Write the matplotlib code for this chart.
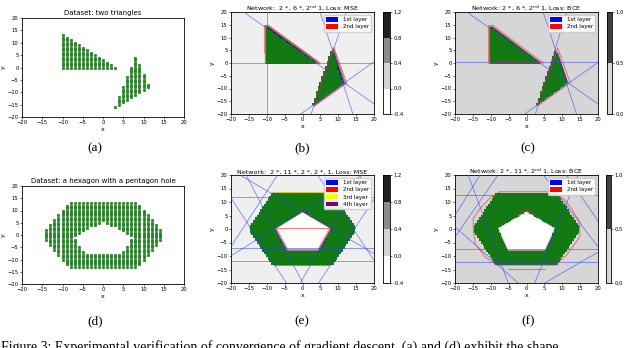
import matplotlib
matplotlib.use("Agg")
import matplotlib.pyplot as plt
import numpy as np
from matplotlib.path import Path
from matplotlib.patches import Patch, Polygon
from matplotlib.colors import BoundaryNorm, ListedColormap
from matplotlib.cm import ScalarMappable

W, H = 640, 348

# training shapes (samples are the lattice points inside them)
tri_left = [(-10.3, -0.3), (-10.3, 14.3), (4.3, -0.3)]
tri_right = [(2.8, -16.3), (8.2, 5.3), (11.3, -8.2)]
hex_outer = [(-15.0, 0), (-8.5, 13.3), (8.5, 13.3), (15.0, 0), (8.5, -13.3), (-8.5, -13.3)]
pent_hole = [(0, 5.5), (-7.6, -0.5), (-4.6, -7.5), (4.6, -7.5), (7.6, -0.5)]
dataset_step = 1.0
model_step = 0.5

ticks = [-20, -15, -10, -5, 0, 5, 10, 15, 20]

# (b) 2-6-2-1, MSE
b_levels = [-0.4, 0.0, 0.4, 0.8, 1.2]
b_colors = ["#ffffff", "#d2d2d2", "#8a8a8a", "#1e1e1e"]
b_bg = "#efefef"
b_dark = [[(-10.3, 0), (-10.3, 14.5), (-9.6, 14.5), (4.6, 0)],
          [(3.3, -16.6), (8.7, 5.6), (11.9, -7.9)]]
b_holes = []
b_blue = [(-9.8, -20, -9.8, 20), (-20, 0, 20, 0), (-16.5, 20, 20, -16),
          (4.9, 20, 14.1, -20), (2.4, -20, 12.3, 20), (-0.5, -20, 20, 0.5)]
b_red = [[(-10.6, 4), (-10.6, 14.7), (-9.5, 14.7), (4.9, 0)],
         [(3.1, -17), (8.7, 6.2), (12.4, -7.9), (3.1, -17)]]

# (c) 2-6-2-1, BCE
c_levels = [0.0, 0.5, 1.0]
c_colors = ["#d6d6d6", "#424242"]
c_bg = "#d6d6d6"
c_dark = [[(-10.6, 0), (-10.6, 14.6), (-9.4, 14.6), (4.6, 0)],
          [(3.3, -16.4), (8.7, 5.4), (11.9, -7.7)]]
c_holes = []
c_blue = [(-20, 0.3, 20, 0.3), (-16.7, 20, 20, -16), (4.65, 20, 14, -20),
          (11.2, 20, 2.5, -20), (-0.5, -20, 20, 0.2)]
c_red = [[(-10.6, 0), (-10.6, 14.7), (-9.4, 14.7), (4.8, 0), (-10.6, 0)],
         [(3.1, -16.8), (8.7, 5.9), (12.2, -7.7), (3.1, -16.8)]]

# (e) 2-11-2-2-1, MSE
e_levels = b_levels
e_colors = b_colors
e_bg = "#efefef"
e_dark = [[(-14.6, 0.3), (-8.1, 13.4), (7.9, 13.4), (14.7, 0.3), (7.6, -13.4), (-7.8, -13.4)]]
e_holes = [[(0, 6.4), (-7.6, 0.2), (-4.3, -7.9), (4.5, -7.9), (8.0, 0.2)]]
e_blue = [(-20, 12, 20, 12), (-20, -7, 20, -7), (-20, -12, 20, -12),
          (-7, 20, -20, -6.5), (-20, 11.5, -4.5, -20), (4.2, 20, 20, -11.6),
          (20, 11, 4.5, -20), (-15.8, 20, 0.1, -20), (16.6, 20, -0.6, -20),
          (-20, -9.9, 16.6, 20), (-17.5, 20, 20, -9.1)]
e_red = [[(-7.6, 0.4), (7.9, 0.4)],
         [(-7.2, 0.0), (-4.2, -7.5), (4.4, -7.5), (7.5, 0.0)]]
e_yellow = [[(-8.0, 13.6), (7.8, 13.6)]]

# (f) 2-11-2-1, BCE
f_levels = c_levels
f_colors = c_colors
f_bg = "#d6d6d6"
f_dark = [[(-14.4, 0.2), (-8.8, 13.2), (8.4, 13.2), (14.4, 0.2), (8.8, -13.4), (-9.0, -13.4)]]
f_holes = [[(0, 6.4), (-7.9, 0.2), (-5.1, -7.8), (5.1, -7.8), (7.9, 0.2)]]
f_blue = [(-20, 12.6, 20, 12.6), (-20, -7.5, 20, -7.5), (-20, -12.4, 20, -12.4),
          (-16.3, 20, -5.1, -20), (-13, 20, -20, 5), (4.7, 20, 20, -6.6),
          (14.4, 20, 2.3, -20), (11.2, 20, 20, 3), (-20, 0.8, -2.3, -20),
          (20, -8.6, 5.1, -20), (-20, -3, -8, 20)]
f_red = [[(-7.4, 13.8), (7.9, 13.8), (11.2, 10.1), (14.9, 2.7), (14.9, -2.9), (11.2, -9.7),
          (7.9, -13.4), (-8.4, -13.4), (-11.6, -10.3), (-14.4, -5.4), (-14.9, -0.4),
          (-14.9, 3.9), (-13, 7.6), (-9.8, 12), (-7.4, 13.8)],
         [(-5.1, -14.7), (5.1, -14.7)],
         [(-3, 5.2), (0, 7.2), (3, 5.2)]]

caption = ("Figure 3: Experimental verification of convergence of gradient descent. "
           "(a) and (d) exhibit the shape")


def lattice(step, outer, holes=()):
    g = np.arange(-20, 20 + step / 2, step)
    gx, gy = np.meshgrid(g, g)
    pts = np.column_stack([gx.ravel(), gy.ravel()])
    keep = np.zeros(len(pts), bool)
    for poly in outer:
        keep |= Path(poly).contains_points(pts)
    for poly in holes:
        keep &= ~Path(poly).contains_points(pts)
    return pts[keep]


def rect(x0, y0, x1, y1):
    return [x0 / W, 1 - y1 / H, (x1 - x0) / W, (y1 - y0) / H]


def style(ax):
    ax.set_xlim(-20, 20)
    ax.set_ylim(-20, 20)
    ax.set_xticks(ticks)
    ax.set_yticks(ticks)
    ax.tick_params(labelsize=3.8, length=1.5, width=0.4, pad=1)
    for s in ax.spines.values():
        s.set_linewidth(0.6)
    ax.set_xlabel("x", fontsize=4.5, labelpad=1)
    ax.set_ylabel("y", fontsize=4.5, labelpad=1)


def dataset_panel(box, title, pts):
    ax = fig.add_axes(rect(*box))
    ax.scatter(pts[:, 0], pts[:, 1], s=3.6, c="#1f9a1f", edgecolors="#0b5d0b",
               linewidths=0.3, zorder=3)
    style(ax)
    ax.set_title(title, fontsize=5, pad=2)
    return ax


def model_panel(box, cbox, title, levels, colors, bg, dark, holes, blue, red, pts,
                yellow=(), legend_n=2):
    ax = fig.add_axes(rect(*box))
    ax.set_facecolor(bg)
    for poly in dark:
        ax.add_patch(Polygon(poly, closed=True, fc=colors[-1], ec=colors[-2],
                             lw=1.2, zorder=1))
    for poly in holes:
        ax.add_patch(Polygon(poly, closed=True, fc="#ffffff", ec=colors[-2],
                             lw=0.8, zorder=1.5))
    if holes:
        inside = np.zeros(len(pts), bool)
        for poly in holes:
            inside |= Path(poly).contains_points(pts, radius=0.6)
        pts = pts[~inside]
    ax.scatter(pts[:, 0], pts[:, 1], s=0.55, marker="s", c="#137a13",
               linewidths=0, zorder=2)
    for x1, y1, x2, y2 in blue:
        ax.plot([x1, x2], [y1, y2], color="#2a3cff", lw=0.5, alpha=0.7, zorder=3)
    for line in red:
        xy = np.array(line)
        ax.plot(xy[:, 0], xy[:, 1], color="#ff2020", lw=0.7, alpha=0.6, zorder=4)
    for line in yellow:
        xy = np.array(line)
        ax.plot(xy[:, 0], xy[:, 1], color="#f0e000", lw=0.7, alpha=0.8, zorder=4)
    style(ax)
    ax.set_title(title, fontsize=4.6, pad=1)

    handles = [Patch(fc="#0000ff"), Patch(fc="#ff0000"), Patch(fc="#ffff00"), Patch(fc="#800080")]
    labels = ["1st layer", "2nd layer", "3rd layer", "4th layer"]
    ax.legend(handles[:legend_n], labels[:legend_n], loc="upper right", fontsize=4,
              handlelength=2.2, handleheight=0.9, borderpad=0.4, labelspacing=0.35,
              framealpha=0.9, fancybox=True)

    cax = fig.add_axes(rect(*cbox))
    sm = ScalarMappable(norm=BoundaryNorm(levels, len(colors)), cmap=ListedColormap(colors))
    cb = fig.colorbar(sm, cax=cax, ticks=levels)
    cb.ax.tick_params(labelsize=3.8, length=1.5, width=0.4, pad=1)
    cb.ax.set_yticklabels([f"{v:.1f}" for v in levels])
    cb.outline.set_linewidth(0.6)
    return ax


fig = plt.figure(figsize=(6.4, 3.48), dpi=100)

tri_pts = lattice(dataset_step, [tri_left, tri_right])
hex_pts = lattice(dataset_step, [hex_outer], [pent_hole])
tri_pts_m = lattice(model_step, [tri_left, tri_right])
hex_pts_m = lattice(model_step, [hex_outer], [pent_hole])

dataset_panel((22, 18, 184, 117), "Dataset: two triangles", tri_pts)
model_panel((231, 12, 374, 114), (383, 12, 390, 114),
            "Network:  2 *, 6 *, 2$^{nd}$ 1, Loss: MSE",
            b_levels, b_colors, b_bg, b_dark, b_holes, b_blue, b_red, tri_pts_m)
model_panel((455, 12, 598, 114), (607, 12, 612, 114),
            "Network: 2 *, 6 *, 2$^{nd}$ 1, Loss: BCE",
            c_levels, c_colors, c_bg, c_dark, c_holes, c_blue, c_red, tri_pts_m)

dataset_panel((22, 186, 184, 284), "Dataset: a hexagon with a pentagon hole", hex_pts)
model_panel((231, 175, 374, 283), (383, 175, 390, 283),
            "Network:  2 *, 11 *, 2 *, 2 *, 1, Loss: MSE",
            e_levels, e_colors, e_bg, e_dark, e_holes, e_blue, e_red, hex_pts_m,
            yellow=e_yellow, legend_n=4)
model_panel((455, 175, 598, 283), (606, 175, 611, 283),
            "Network: 2 *, 11 *, 2$^{nd}$ 1, Loss: BCE",
            f_levels, f_colors, f_bg, f_dark, f_holes, f_blue, f_red, hex_pts_m)

serif = ["Liberation Serif", "DejaVu Serif"]
for lab, x, y in [("(a)", 95, 148), ("(b)", 302, 148), ("(c)", 528, 148),
                  ("(d)", 95, 321), ("(e)", 302, 321), ("(f)", 528, 321)]:
    fig.text(x / W, 1 - y / H, lab, family=serif, fontsize=9.5, ha="center", va="center")
fig.text(0.002, 1 - 351 / H, caption, family=serif, fontsize=10, ha="left", va="baseline")

fig.savefig("out.png", dpi=100)
